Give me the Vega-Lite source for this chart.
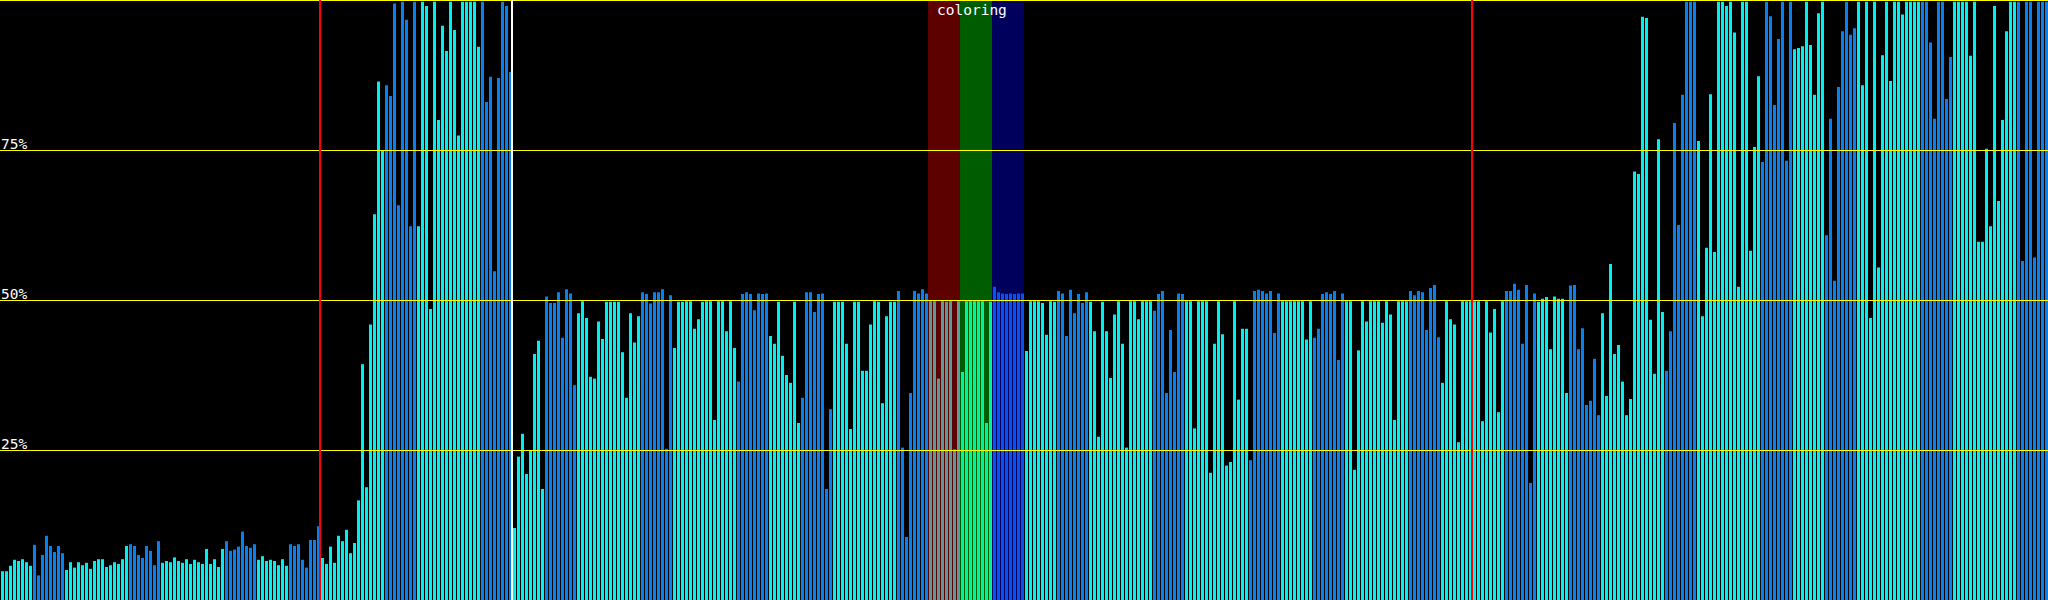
{
"$schema": "https://vega.github.io/schema/vega-lite/v6.json",
"width": 2048, "height": 600, "padding": 0, "autosize": {"type": "none"},
"background": "#000000",
"config": {"view": {"stroke": null}},
"datasets": {
"bars": [
{"i":0,"v":4.8,"k":"a"},{"i":1,"v":4.8,"k":"a"},{"i":2,"v":5.7,"k":"a"},{"i":3,"v":6.7,"k":"a"},{"i":4,"v":6.5,"k":"a"},{"i":5,"v":6.8,"k":"a"},{"i":6,"v":6.3,"k":"a"},{"i":7,"v":5.7,"k":"a"},
{"i":8,"v":9.2,"k":"b"},{"i":9,"v":4.1,"k":"b"},{"i":10,"v":7.5,"k":"b"},{"i":11,"v":10.7,"k":"b"},{"i":12,"v":9.0,"k":"b"},{"i":13,"v":8.0,"k":"b"},{"i":14,"v":9.0,"k":"b"},{"i":15,"v":7.8,"k":"b"},
{"i":16,"v":5.0,"k":"a"},{"i":17,"v":6.3,"k":"a"},{"i":18,"v":5.4,"k":"a"},{"i":19,"v":6.3,"k":"a"},{"i":20,"v":5.8,"k":"a"},{"i":21,"v":6.2,"k":"a"},{"i":22,"v":5.2,"k":"a"},{"i":23,"v":6.5,"k":"a"},
{"i":24,"v":6.8,"k":"a"},{"i":25,"v":6.8,"k":"a"},{"i":26,"v":5.5,"k":"a"},{"i":27,"v":5.8,"k":"a"},{"i":28,"v":6.3,"k":"a"},{"i":29,"v":6.0,"k":"a"},{"i":30,"v":6.8,"k":"a"},{"i":31,"v":9.0,"k":"a"},
{"i":32,"v":9.3,"k":"b"},{"i":33,"v":9.0,"k":"b"},{"i":34,"v":7.5,"k":"b"},{"i":35,"v":7.0,"k":"b"},{"i":36,"v":9.0,"k":"b"},{"i":37,"v":8.2,"k":"b"},{"i":38,"v":5.8,"k":"b"},{"i":39,"v":9.8,"k":"b"},
{"i":40,"v":6.2,"k":"a"},{"i":41,"v":6.5,"k":"a"},{"i":42,"v":6.3,"k":"a"},{"i":43,"v":7.1,"k":"a"},{"i":44,"v":6.5,"k":"a"},{"i":45,"v":6.2,"k":"a"},{"i":46,"v":6.8,"k":"a"},{"i":47,"v":6.0,"k":"a"},
{"i":48,"v":6.7,"k":"a"},{"i":49,"v":6.3,"k":"a"},{"i":50,"v":6.0,"k":"a"},{"i":51,"v":8.5,"k":"a"},{"i":52,"v":6.0,"k":"a"},{"i":53,"v":6.8,"k":"a"},{"i":54,"v":5.5,"k":"a"},{"i":55,"v":8.5,"k":"a"},
{"i":56,"v":9.8,"k":"b"},{"i":57,"v":8.2,"k":"b"},{"i":58,"v":8.4,"k":"b"},{"i":59,"v":8.9,"k":"b"},{"i":60,"v":11.4,"k":"b"},{"i":61,"v":9.0,"k":"b"},{"i":62,"v":8.7,"k":"b"},{"i":63,"v":9.3,"k":"b"},
{"i":64,"v":6.7,"k":"a"},{"i":65,"v":7.3,"k":"a"},{"i":66,"v":6.5,"k":"a"},{"i":67,"v":6.7,"k":"a"},{"i":68,"v":6.5,"k":"a"},{"i":69,"v":5.8,"k":"a"},{"i":70,"v":6.8,"k":"a"},{"i":71,"v":5.7,"k":"a"},
{"i":72,"v":9.3,"k":"b"},{"i":73,"v":9.0,"k":"b"},{"i":74,"v":9.3,"k":"b"},{"i":75,"v":6.7,"k":"b"},{"i":76,"v":5.4,"k":"b"},{"i":77,"v":10.0,"k":"b"},{"i":78,"v":10.0,"k":"b"},{"i":79,"v":12.3,"k":"b"},
{"i":80,"v":7.0,"k":"a"},{"i":81,"v":6.0,"k":"a"},{"i":82,"v":8.9,"k":"a"},{"i":83,"v":6.2,"k":"a"},{"i":84,"v":10.7,"k":"a"},{"i":85,"v":9.8,"k":"a"},{"i":86,"v":11.7,"k":"a"},{"i":87,"v":7.8,"k":"a"},
{"i":88,"v":9.5,"k":"a"},{"i":89,"v":16.6,"k":"a"},{"i":90,"v":39.3,"k":"a"},{"i":91,"v":18.8,"k":"a"},{"i":92,"v":45.9,"k":"a"},{"i":93,"v":64.3,"k":"a"},{"i":94,"v":86.4,"k":"a"},{"i":95,"v":75.0,"k":"a"},
{"i":96,"v":85.8,"k":"b"},{"i":97,"v":84.0,"k":"b"},{"i":98,"v":99.4,"k":"b"},{"i":99,"v":65.8,"k":"b"},{"i":100,"v":99.7,"k":"b"},{"i":101,"v":96.7,"k":"b"},{"i":102,"v":62.3,"k":"b"},{"i":103,"v":99.7,"k":"b"},
{"i":104,"v":62.3,"k":"a"},{"i":105,"v":99.7,"k":"a"},{"i":106,"v":99.0,"k":"a"},{"i":107,"v":48.5,"k":"a"},{"i":108,"v":99.7,"k":"a"},{"i":109,"v":80.0,"k":"a"},{"i":110,"v":95.7,"k":"a"},{"i":111,"v":91.5,"k":"a"},
{"i":112,"v":99.7,"k":"a"},{"i":113,"v":95.0,"k":"a"},{"i":114,"v":77.4,"k":"a"},{"i":115,"v":99.7,"k":"a"},{"i":116,"v":99.7,"k":"a"},{"i":117,"v":99.7,"k":"a"},{"i":118,"v":99.7,"k":"a"},{"i":119,"v":92.2,"k":"a"},
{"i":120,"v":99.7,"k":"b"},{"i":121,"v":83.0,"k":"b"},{"i":122,"v":87.2,"k":"b"},{"i":123,"v":54.8,"k":"b"},{"i":124,"v":87.0,"k":"b"},{"i":125,"v":99.7,"k":"b"},{"i":126,"v":99.0,"k":"b"},{"i":127,"v":88.0,"k":"b"},
{"i":128,"v":12.0,"k":"a"},{"i":129,"v":23.9,"k":"a"},{"i":130,"v":27.7,"k":"a"},{"i":131,"v":21.0,"k":"a"},{"i":132,"v":24.9,"k":"a"},{"i":133,"v":41.0,"k":"a"},{"i":134,"v":43.2,"k":"a"},{"i":135,"v":18.5,"k":"a"},
{"i":136,"v":50.6,"k":"b"},{"i":137,"v":49.5,"k":"b"},{"i":138,"v":49.5,"k":"b"},{"i":139,"v":51.3,"k":"b"},{"i":140,"v":43.7,"k":"b"},{"i":141,"v":51.8,"k":"b"},{"i":142,"v":51.1,"k":"b"},{"i":143,"v":35.8,"k":"b"},
{"i":144,"v":47.8,"k":"a"},{"i":145,"v":49.8,"k":"a"},{"i":146,"v":47.0,"k":"a"},{"i":147,"v":37.2,"k":"a"},{"i":148,"v":36.9,"k":"a"},{"i":149,"v":46.4,"k":"a"},{"i":150,"v":43.5,"k":"a"},{"i":151,"v":49.7,"k":"a"},
{"i":152,"v":49.7,"k":"a"},{"i":153,"v":49.7,"k":"a"},{"i":154,"v":49.7,"k":"a"},{"i":155,"v":41.3,"k":"a"},{"i":156,"v":33.7,"k":"a"},{"i":157,"v":47.8,"k":"a"},{"i":158,"v":42.9,"k":"a"},{"i":159,"v":47.3,"k":"a"},
{"i":160,"v":51.3,"k":"b"},{"i":161,"v":51.0,"k":"b"},{"i":162,"v":49.4,"k":"b"},{"i":163,"v":51.3,"k":"b"},{"i":164,"v":51.3,"k":"b"},{"i":165,"v":51.8,"k":"b"},{"i":166,"v":25.2,"k":"b"},{"i":167,"v":50.8,"k":"b"},
{"i":168,"v":42.0,"k":"a"},{"i":169,"v":49.7,"k":"a"},{"i":170,"v":49.7,"k":"a"},{"i":171,"v":49.8,"k":"a"},{"i":172,"v":49.8,"k":"a"},{"i":173,"v":45.2,"k":"a"},{"i":174,"v":46.8,"k":"a"},{"i":175,"v":49.7,"k":"a"},
{"i":176,"v":49.8,"k":"a"},{"i":177,"v":49.8,"k":"a"},{"i":178,"v":30.0,"k":"a"},{"i":179,"v":49.8,"k":"a"},{"i":180,"v":49.8,"k":"a"},{"i":181,"v":44.8,"k":"a"},{"i":182,"v":49.8,"k":"a"},{"i":183,"v":42.0,"k":"a"},
{"i":184,"v":36.4,"k":"b"},{"i":185,"v":51.0,"k":"b"},{"i":186,"v":51.3,"k":"b"},{"i":187,"v":51.0,"k":"b"},{"i":188,"v":48.3,"k":"b"},{"i":189,"v":51.1,"k":"b"},{"i":190,"v":51.0,"k":"b"},{"i":191,"v":51.1,"k":"b"},
{"i":192,"v":44.0,"k":"a"},{"i":193,"v":42.7,"k":"a"},{"i":194,"v":49.7,"k":"a"},{"i":195,"v":40.7,"k":"a"},{"i":196,"v":37.5,"k":"a"},{"i":197,"v":36.2,"k":"a"},{"i":198,"v":49.7,"k":"a"},{"i":199,"v":29.5,"k":"a"},
{"i":200,"v":33.7,"k":"b"},{"i":201,"v":51.3,"k":"b"},{"i":202,"v":51.3,"k":"b"},{"i":203,"v":48.0,"k":"b"},{"i":204,"v":51.0,"k":"b"},{"i":205,"v":51.1,"k":"b"},{"i":206,"v":18.5,"k":"b"},{"i":207,"v":31.8,"k":"b"},
{"i":208,"v":49.7,"k":"a"},{"i":209,"v":49.7,"k":"a"},{"i":210,"v":49.7,"k":"a"},{"i":211,"v":42.7,"k":"a"},{"i":212,"v":28.5,"k":"a"},{"i":213,"v":49.7,"k":"a"},{"i":214,"v":49.7,"k":"a"},{"i":215,"v":38.2,"k":"a"},
{"i":216,"v":38.2,"k":"a"},{"i":217,"v":45.9,"k":"a"},{"i":218,"v":49.8,"k":"a"},{"i":219,"v":49.7,"k":"a"},{"i":220,"v":32.8,"k":"a"},{"i":221,"v":47.3,"k":"a"},{"i":222,"v":49.7,"k":"a"},{"i":223,"v":49.7,"k":"a"},
{"i":224,"v":51.5,"k":"b"},{"i":225,"v":25.4,"k":"b"},{"i":226,"v":10.5,"k":"b"},{"i":227,"v":34.5,"k":"b"},{"i":228,"v":51.5,"k":"b"},{"i":229,"v":51.1,"k":"b"},{"i":230,"v":51.8,"k":"b"},{"i":231,"v":51.1,"k":"b"},
{"i":232,"v":49.8,"k":"a"},{"i":233,"v":49.8,"k":"a"},{"i":234,"v":36.9,"k":"a"},{"i":235,"v":49.8,"k":"a"},{"i":236,"v":49.7,"k":"a"},{"i":237,"v":49.8,"k":"a"},{"i":238,"v":25.1,"k":"a"},{"i":239,"v":49.8,"k":"a"},
{"i":240,"v":38.0,"k":"a"},{"i":241,"v":49.8,"k":"a"},{"i":242,"v":49.8,"k":"a"},{"i":243,"v":49.8,"k":"a"},{"i":244,"v":49.8,"k":"a"},{"i":245,"v":49.8,"k":"a"},{"i":246,"v":29.5,"k":"a"},{"i":247,"v":49.7,"k":"a"},
{"i":248,"v":52.2,"k":"b"},{"i":249,"v":51.3,"k":"b"},{"i":250,"v":51.1,"k":"b"},{"i":251,"v":51.0,"k":"b"},{"i":252,"v":51.1,"k":"b"},{"i":253,"v":51.0,"k":"b"},{"i":254,"v":51.1,"k":"b"},{"i":255,"v":51.1,"k":"b"},
{"i":256,"v":41.5,"k":"a"},{"i":257,"v":49.8,"k":"a"},{"i":258,"v":49.8,"k":"a"},{"i":259,"v":49.8,"k":"a"},{"i":260,"v":49.5,"k":"a"},{"i":261,"v":44.2,"k":"a"},{"i":262,"v":49.8,"k":"a"},{"i":263,"v":49.7,"k":"a"},
{"i":264,"v":51.5,"k":"b"},{"i":265,"v":51.1,"k":"b"},{"i":266,"v":44.0,"k":"b"},{"i":267,"v":51.7,"k":"b"},{"i":268,"v":47.8,"k":"b"},{"i":269,"v":51.0,"k":"b"},{"i":270,"v":49.5,"k":"b"},{"i":271,"v":51.3,"k":"b"},
{"i":272,"v":49.7,"k":"a"},{"i":273,"v":44.8,"k":"a"},{"i":274,"v":27.2,"k":"a"},{"i":275,"v":49.7,"k":"a"},{"i":276,"v":44.8,"k":"a"},{"i":277,"v":37.0,"k":"a"},{"i":278,"v":47.6,"k":"a"},{"i":279,"v":49.8,"k":"a"},
{"i":280,"v":42.7,"k":"a"},{"i":281,"v":25.4,"k":"a"},{"i":282,"v":49.8,"k":"a"},{"i":283,"v":49.8,"k":"a"},{"i":284,"v":46.8,"k":"a"},{"i":285,"v":49.8,"k":"a"},{"i":286,"v":49.8,"k":"a"},{"i":287,"v":49.8,"k":"a"},
{"i":288,"v":48.2,"k":"b"},{"i":289,"v":51.0,"k":"b"},{"i":290,"v":51.5,"k":"b"},{"i":291,"v":34.5,"k":"b"},{"i":292,"v":45.0,"k":"b"},{"i":293,"v":38.0,"k":"b"},{"i":294,"v":51.1,"k":"b"},{"i":295,"v":51.0,"k":"b"},
{"i":296,"v":49.8,"k":"a"},{"i":297,"v":49.8,"k":"a"},{"i":298,"v":28.6,"k":"a"},{"i":299,"v":49.8,"k":"a"},{"i":300,"v":49.8,"k":"a"},{"i":301,"v":49.8,"k":"a"},{"i":302,"v":21.2,"k":"a"},{"i":303,"v":42.7,"k":"a"},
{"i":304,"v":49.8,"k":"a"},{"i":305,"v":44.3,"k":"a"},{"i":306,"v":22.4,"k":"a"},{"i":307,"v":23.0,"k":"a"},{"i":308,"v":49.8,"k":"a"},{"i":309,"v":33.4,"k":"a"},{"i":310,"v":45.2,"k":"a"},{"i":311,"v":45.2,"k":"a"},
{"i":312,"v":23.3,"k":"b"},{"i":313,"v":51.5,"k":"b"},{"i":314,"v":51.7,"k":"b"},{"i":315,"v":51.5,"k":"b"},{"i":316,"v":51.1,"k":"b"},{"i":317,"v":51.5,"k":"b"},{"i":318,"v":44.5,"k":"b"},{"i":319,"v":51.1,"k":"b"},
{"i":320,"v":49.8,"k":"a"},{"i":321,"v":49.8,"k":"a"},{"i":322,"v":49.8,"k":"a"},{"i":323,"v":49.8,"k":"a"},{"i":324,"v":49.8,"k":"a"},{"i":325,"v":49.8,"k":"a"},{"i":326,"v":43.4,"k":"a"},{"i":327,"v":49.8,"k":"a"},
{"i":328,"v":43.7,"k":"b"},{"i":329,"v":45.2,"k":"b"},{"i":330,"v":51.0,"k":"b"},{"i":331,"v":51.3,"k":"b"},{"i":332,"v":51.0,"k":"b"},{"i":333,"v":51.5,"k":"b"},{"i":334,"v":40.0,"k":"b"},{"i":335,"v":51.1,"k":"b"},
{"i":336,"v":49.8,"k":"a"},{"i":337,"v":49.8,"k":"a"},{"i":338,"v":21.7,"k":"a"},{"i":339,"v":41.6,"k":"a"},{"i":340,"v":49.8,"k":"a"},{"i":341,"v":46.4,"k":"a"},{"i":342,"v":49.8,"k":"a"},{"i":343,"v":49.8,"k":"a"},
{"i":344,"v":49.8,"k":"a"},{"i":345,"v":46.2,"k":"a"},{"i":346,"v":49.8,"k":"a"},{"i":347,"v":47.6,"k":"a"},{"i":348,"v":30.0,"k":"a"},{"i":349,"v":49.8,"k":"a"},{"i":350,"v":49.8,"k":"a"},{"i":351,"v":49.8,"k":"a"},
{"i":352,"v":51.5,"k":"b"},{"i":353,"v":50.8,"k":"b"},{"i":354,"v":51.5,"k":"b"},{"i":355,"v":51.3,"k":"b"},{"i":356,"v":45.0,"k":"b"},{"i":357,"v":52.0,"k":"b"},{"i":358,"v":52.5,"k":"b"},{"i":359,"v":43.8,"k":"b"},
{"i":360,"v":36.2,"k":"a"},{"i":361,"v":49.8,"k":"a"},{"i":362,"v":46.8,"k":"a"},{"i":363,"v":45.9,"k":"a"},{"i":364,"v":26.3,"k":"a"},{"i":365,"v":49.8,"k":"a"},{"i":366,"v":49.8,"k":"a"},{"i":367,"v":49.8,"k":"a"},
{"i":368,"v":49.8,"k":"a"},{"i":369,"v":49.8,"k":"a"},{"i":370,"v":29.8,"k":"a"},{"i":371,"v":49.8,"k":"a"},{"i":372,"v":44.6,"k":"a"},{"i":373,"v":48.5,"k":"a"},{"i":374,"v":31.3,"k":"a"},{"i":375,"v":49.8,"k":"a"},
{"i":376,"v":51.5,"k":"b"},{"i":377,"v":51.5,"k":"b"},{"i":378,"v":52.7,"k":"b"},{"i":379,"v":51.7,"k":"b"},{"i":380,"v":42.7,"k":"b"},{"i":381,"v":52.5,"k":"b"},{"i":382,"v":19.5,"k":"b"},{"i":383,"v":51.1,"k":"b"},
{"i":384,"v":49.7,"k":"a"},{"i":385,"v":50.2,"k":"a"},{"i":386,"v":50.5,"k":"a"},{"i":387,"v":41.8,"k":"a"},{"i":388,"v":50.6,"k":"a"},{"i":389,"v":50.2,"k":"a"},{"i":390,"v":50.2,"k":"a"},{"i":391,"v":34.5,"k":"a"},
{"i":392,"v":52.4,"k":"b"},{"i":393,"v":52.5,"k":"b"},{"i":394,"v":41.8,"k":"b"},{"i":395,"v":45.3,"k":"b"},{"i":396,"v":32.5,"k":"b"},{"i":397,"v":33.2,"k":"b"},{"i":398,"v":40.2,"k":"b"},{"i":399,"v":30.8,"k":"b"},
{"i":400,"v":47.8,"k":"a"},{"i":401,"v":34.0,"k":"a"},{"i":402,"v":56.0,"k":"a"},{"i":403,"v":41.0,"k":"a"},{"i":404,"v":42.5,"k":"a"},{"i":405,"v":36.4,"k":"a"},{"i":406,"v":30.8,"k":"a"},{"i":407,"v":33.5,"k":"a"},
{"i":408,"v":71.4,"k":"a"},{"i":409,"v":71.0,"k":"a"},{"i":410,"v":97.2,"k":"a"},{"i":411,"v":97.0,"k":"a"},{"i":412,"v":46.7,"k":"a"},{"i":413,"v":37.7,"k":"a"},{"i":414,"v":76.8,"k":"a"},{"i":415,"v":48.0,"k":"a"},
{"i":416,"v":38.2,"k":"b"},{"i":417,"v":44.8,"k":"b"},{"i":418,"v":79.5,"k":"b"},{"i":419,"v":62.5,"k":"b"},{"i":420,"v":84.2,"k":"b"},{"i":421,"v":99.7,"k":"b"},{"i":422,"v":99.7,"k":"b"},{"i":423,"v":99.7,"k":"b"},
{"i":424,"v":76.5,"k":"a"},{"i":425,"v":47.3,"k":"a"},{"i":426,"v":58.7,"k":"a"},{"i":427,"v":84.3,"k":"a"},{"i":428,"v":58.0,"k":"a"},{"i":429,"v":99.7,"k":"a"},{"i":430,"v":99.7,"k":"a"},{"i":431,"v":99.0,"k":"a"},
{"i":432,"v":99.7,"k":"a"},{"i":433,"v":94.6,"k":"a"},{"i":434,"v":52.2,"k":"a"},{"i":435,"v":99.7,"k":"a"},{"i":436,"v":99.7,"k":"a"},{"i":437,"v":58.2,"k":"a"},{"i":438,"v":75.5,"k":"a"},{"i":439,"v":87.3,"k":"a"},
{"i":440,"v":73.0,"k":"b"},{"i":441,"v":99.7,"k":"b"},{"i":442,"v":97.3,"k":"b"},{"i":443,"v":82.5,"k":"b"},{"i":444,"v":93.5,"k":"b"},{"i":445,"v":99.7,"k":"b"},{"i":446,"v":73.2,"k":"b"},{"i":447,"v":99.7,"k":"b"},
{"i":448,"v":91.8,"k":"a"},{"i":449,"v":92.0,"k":"a"},{"i":450,"v":92.3,"k":"a"},{"i":451,"v":99.7,"k":"a"},{"i":452,"v":92.5,"k":"a"},{"i":453,"v":84.2,"k":"a"},{"i":454,"v":97.8,"k":"a"},{"i":455,"v":99.7,"k":"a"},
{"i":456,"v":60.8,"k":"b"},{"i":457,"v":80.2,"k":"b"},{"i":458,"v":53.2,"k":"b"},{"i":459,"v":85.5,"k":"b"},{"i":460,"v":94.8,"k":"b"},{"i":461,"v":99.7,"k":"b"},{"i":462,"v":94.2,"k":"b"},{"i":463,"v":95.3,"k":"b"},
{"i":464,"v":99.7,"k":"a"},{"i":465,"v":85.8,"k":"a"},{"i":466,"v":99.7,"k":"a"},{"i":467,"v":47.0,"k":"a"},{"i":468,"v":99.7,"k":"a"},{"i":469,"v":55.4,"k":"a"},{"i":470,"v":90.8,"k":"a"},{"i":471,"v":99.7,"k":"a"},
{"i":472,"v":86.5,"k":"a"},{"i":473,"v":99.7,"k":"a"},{"i":474,"v":99.7,"k":"a"},{"i":475,"v":97.6,"k":"a"},{"i":476,"v":99.7,"k":"a"},{"i":477,"v":99.7,"k":"a"},{"i":478,"v":99.7,"k":"a"},{"i":479,"v":99.7,"k":"a"},
{"i":480,"v":99.7,"k":"b"},{"i":481,"v":99.7,"k":"b"},{"i":482,"v":92.9,"k":"b"},{"i":483,"v":80.2,"k":"b"},{"i":484,"v":99.7,"k":"b"},{"i":485,"v":99.7,"k":"b"},{"i":486,"v":83.5,"k":"b"},{"i":487,"v":90.5,"k":"b"},
{"i":488,"v":99.7,"k":"a"},{"i":489,"v":99.7,"k":"a"},{"i":490,"v":99.7,"k":"a"},{"i":491,"v":99.7,"k":"a"},{"i":492,"v":90.7,"k":"a"},{"i":493,"v":99.7,"k":"a"},{"i":494,"v":59.7,"k":"a"},{"i":495,"v":59.7,"k":"a"},
{"i":496,"v":75.2,"k":"a"},{"i":497,"v":62.3,"k":"a"},{"i":498,"v":99.0,"k":"a"},{"i":499,"v":66.5,"k":"a"},{"i":500,"v":80.0,"k":"a"},{"i":501,"v":94.8,"k":"a"},{"i":502,"v":99.7,"k":"a"},{"i":503,"v":99.7,"k":"a"},
{"i":504,"v":99.7,"k":"b"},{"i":505,"v":56.5,"k":"b"},{"i":506,"v":99.7,"k":"b"},{"i":507,"v":99.7,"k":"b"},{"i":508,"v":57.1,"k":"b"},{"i":509,"v":99.7,"k":"b"},{"i":510,"v":99.7,"k":"b"},{"i":511,"v":99.7,"k":"b"}
],
"bands": [{"i":232,"j":240,"c":"red"},{"i":240,"j":248,"c":"green"},{"i":248,"j":256,"c":"blue"}],
"marks": [{"i":80,"t":"r"},{"i":128,"t":"w"},{"i":368,"t":"r"}],
"grid": [{"g":25,"t":"25%"},{"g":50,"t":"50%"},{"g":75,"t":"75%"},{"g":100,"t":""}],
"title": [{"i":234,"g":100,"t":"coloring"}]
},
"resolve": {"scale": {"color": "independent"}},
"layer": [
{"data": {"name": "bars"}, "mark": {"type": "bar"},
 "encoding": {
  "x": {"field": "i", "type": "ordinal", "axis": null, "scale": {"type": "band", "range": [0.5, 2048.5], "paddingInner": 0.25, "paddingOuter": 0.125}},
  "y": {"field": "v", "type": "quantitative", "axis": null, "scale": {"domain": [0, 100], "nice": false, "zero": true}},
  "color": {"field": "k", "type": "nominal", "legend": null, "scale": {"domain": ["a", "b"], "range": ["#00f0f0", "#0a80f0"]}}
 }},
{"data": {"name": "bands"}, "mark": {"type": "rect", "fillOpacity": 0.36, "xOffset": -1, "x2Offset": -1},
 "encoding": {
  "x": {"field": "i", "type": "ordinal", "bandPosition": 0},
  "x2": {"field": "j", "bandPosition": 0},
  "y": {"datum": 100, "type": "quantitative"},
  "y2": {"datum": 0},
  "fill": {"field": "c", "type": "nominal", "legend": null, "scale": {"domain": ["red", "green", "blue"], "range": ["#ff0000", "#00ff00", "#0000ff"]}}
 }},
{"data": {"name": "grid"}, "mark": {"type": "rule", "color": "#ffff00", "strokeWidth": 1, "yOffset": 0.5},
 "encoding": {"y": {"field": "g", "type": "quantitative"}}},
{"data": {"name": "marks"}, "mark": {"type": "rule", "strokeWidth": 2, "xOffset": -1},
 "encoding": {
  "x": {"field": "i", "type": "ordinal", "bandPosition": 0},
  "stroke": {"field": "t", "type": "nominal", "legend": null, "scale": {"domain": ["r", "w"], "range": ["#ff0000", "#ffffff"]}}
 }},
{"data": {"name": "grid"}, "mark": {"type": "text", "align": "left", "baseline": "alphabetic", "dy": -1, "font": "DejaVu Sans Mono", "fontSize": 14.5, "color": "#ffffff"},
 "encoding": {
  "x": {"datum": 0, "type": "ordinal", "bandPosition": 0},
  "y": {"field": "g", "type": "quantitative"},
  "text": {"field": "t"}
 }},
{"data": {"name": "title"}, "mark": {"type": "text", "align": "left", "baseline": "alphabetic", "dy": 15, "font": "DejaVu Sans Mono", "fontSize": 14.5, "color": "#ffffff"},
 "encoding": {
  "x": {"field": "i", "type": "ordinal", "bandPosition": 0},
  "y": {"field": "g", "type": "quantitative"},
  "text": {"field": "t"}
 }}
]
}
